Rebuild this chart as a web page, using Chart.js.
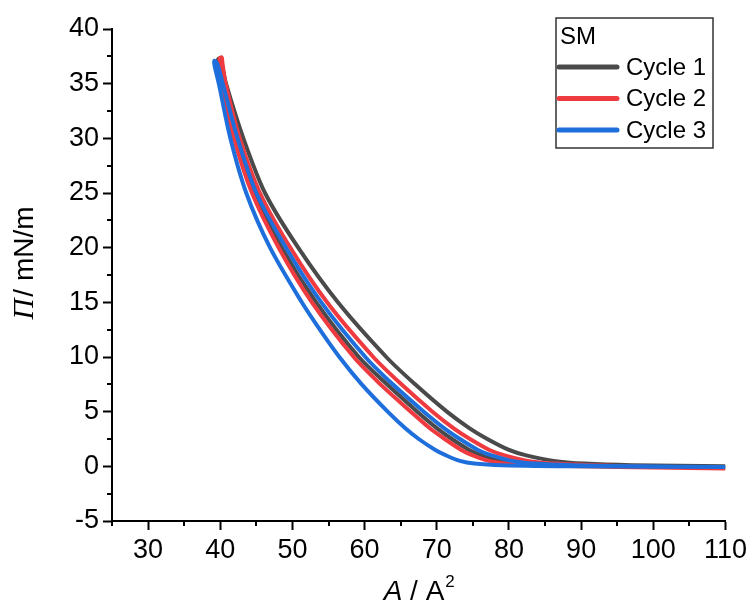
<!DOCTYPE html>
<html>
<head>
<meta charset="utf-8">
<script src="https://cdn.jsdelivr.net/npm/chart.js@4.4.1/dist/chart.umd.min.js"></script>
<style>
  html, body { margin: 0; padding: 0; background: #fff; }
  #wrap { width: 751px; height: 614px; position: relative; }
</style>
</head>
<body>
<div id="wrap"><canvas id="isotherm"></canvas></div>
<script>
// --- data: area per molecule (A) vs surface pressure (Pi) ---
// each cycle = compression (110 -> top) then expansion (top -> 110)
const c1CompA  = [110, 97, 90.5, 86.2, 82.4, 80.0, 77.0, 74.5, 71.4, 67.0, 63.0, 56.3, 50.8, 46.2, 43.2, 40.8, 40.1, 39.8];
const c1CompPi = [0, 0.1, 0.25, 0.5, 1.0, 1.5, 2.5, 3.5, 5, 7.5, 10, 15, 20, 25, 30, 35, 37.0, 37.3];
const c1ExpA   = [39.6, 40.2, 42.2, 44.7, 48.5, 53.3, 59.2, 63.1, 67.3, 70.0, 72.1, 74.5, 76.3, 78.8, 81.7, 86.6, 98, 110];
const c1ExpPi  = [37.0, 35, 30, 25, 20, 15, 10, 7.5, 5, 3.5, 2.5, 1.5, 1.0, 0.5, 0.25, 0.1, 0, -0.05];

const c2CompA  = [110, 100, 92.0, 86.2, 82.6, 79.4, 77.3, 74.6, 72.3, 69.4, 65.1, 61.2, 54.8, 49.7, 45.5, 42.7, 40.75, 40.3, 40.2];
const c2CompPi = [-0.15, -0.05, 0.1, 0.25, 0.5, 1.0, 1.5, 2.5, 3.5, 5, 7.5, 10, 15, 20, 25, 30, 35, 36.9, 37.4];
const c2ExpA   = [39.9, 40.1, 41.9, 44.4, 48.1, 52.7, 58.5, 62.2, 66.4, 69.0, 71.1, 73.4, 75.0, 77.2, 79.9, 84.4, 95, 110];
const c2ExpPi  = [37.3, 35, 30, 25, 20, 15, 10, 7.5, 5, 3.5, 2.5, 1.5, 1.0, 0.5, 0.25, 0.1, -0.05, -0.2];

const c3CompA  = [110, 98, 88.9, 83.7, 80.4, 77.6, 75.7, 73.2, 71.0, 68.2, 63.9, 60.1, 54.0, 49.1, 45.0, 42.4, 40.35, 39.6, 39.2];
const c3CompPi = [-0.05, 0, 0.1, 0.25, 0.5, 1.0, 1.5, 2.5, 3.5, 5, 7.5, 10, 15, 20, 25, 30, 35, 36.8, 37.1];
const c3ExpA   = [39.2, 39.8, 41.4, 43.6, 46.9, 51.3, 53.8, 56.5, 59.6, 63.2, 65.6, 67.5, 69.8, 71.3, 73.2, 75.2, 79, 90, 110];
const c3ExpPi  = [36.7, 35, 30, 25, 20, 15, 12.5, 10, 7.5, 5, 3.5, 2.5, 1.5, 1.0, 0.5, 0.25, 0.1, 0, -0.05];

const cycleLabels = ['Cycle 1', 'Cycle 2', 'Cycle 3'];
const cycleColors = ['#4a4a4a', '#ef3a3f', '#1e6fdc'];

const xTicks = [30, 40, 50, 60, 70, 80, 90, 100, 110];
const yTicks = [-5, 0, 5, 10, 15, 20, 25, 30, 35, 40];
const xMinor = [25, 35, 45, 55, 65, 75, 85, 95, 105];
const yMinor = [-2.5, 2.5, 7.5, 12.5, 17.5, 22.5, 27.5, 32.5, 37.5];

function loop(compA, compPi, expA, expPi) {
  const pts = compA.map((a, i) => ({ x: a, y: compPi[i] }));
  return pts.concat(expA.map((a, i) => ({ x: a, y: expPi[i] })));
}

const cycles = [
  loop(c1CompA, c1CompPi, c1ExpA, c1ExpPi),
  loop(c2CompA, c2CompPi, c2ExpA, c2ExpPi),
  loop(c3CompA, c3CompPi, c3ExpA, c3ExpPi)
];

const SANS = '"Liberation Sans", Arial, sans-serif';
const SERIF = '"Liberation Serif", "Times New Roman", serif';

// minor ticks (Chart.js has none of its own)
const minorTicks = {
  id: 'minorTicks',
  afterDraw(chart) {
    const { ctx, chartArea, scales } = chart;
    ctx.save();
    ctx.strokeStyle = '#000';
    ctx.lineWidth = 2;
    ctx.beginPath();
    xMinor.forEach(v => {
      const px = Math.round(scales.x.getPixelForValue(v));
      ctx.moveTo(px, chartArea.bottom);
      ctx.lineTo(px, chartArea.bottom + 5);
    });
    yMinor.forEach(v => {
      const py = Math.round(scales.y.getPixelForValue(v));
      ctx.moveTo(chartArea.left, py);
      ctx.lineTo(chartArea.left - 5, py);
    });
    ctx.stroke();
    ctx.restore();
  }
};

// axis titles with italic symbols
const axisTitles = {
  id: 'axisTitles',
  afterDraw(chart) {
    const { ctx, chartArea } = chart;
    ctx.save();
    ctx.fillStyle = '#000';
    ctx.textBaseline = 'alphabetic';

    // x title: A / A^2
    const xc = (chartArea.left + chartArea.right) / 2;
    const by = 600;
    ctx.font = 'italic 28px ' + SANS;
    const wA = ctx.measureText('A').width;
    ctx.font = '28px ' + SANS;
    const wMid = ctx.measureText(' / A').width;
    ctx.font = '17px ' + SANS;
    const wSup = ctx.measureText('2').width;
    const x0 = xc - (wA + wMid + wSup) / 2;
    ctx.font = 'italic 28px ' + SANS;
    ctx.fillText('A', x0, by);
    ctx.font = '28px ' + SANS;
    ctx.fillText(' / A', x0 + wA, by);
    ctx.font = '17px ' + SANS;
    ctx.fillText('2', x0 + wA + wMid + 1, by - 13);

    // y title: Pi / mN/m (rotated)
    const yc = (chartArea.top + chartArea.bottom) / 2 - 12;
    ctx.translate(33, yc);
    ctx.rotate(-Math.PI / 2);
    ctx.font = 'italic 29px ' + SERIF;
    const wPi = ctx.measureText('\u03A0').width;
    ctx.font = '28px ' + SANS;
    const wRest = ctx.measureText('/ mN/m').width;
    const s = -(wPi + 2 + wRest) / 2;
    ctx.font = 'italic 29px ' + SERIF;
    ctx.fillText('\u03A0', s, 0);
    ctx.font = '28px ' + SANS;
    ctx.fillText('/ mN/m', s + wPi + 2, 0);
    ctx.restore();
  }
};

// boxed legend with title, top right
const boxLegend = {
  id: 'boxLegend',
  afterDraw(chart) {
    const ctx = chart.ctx;
    const left = 556, top = 18, w = 157, h = 130;
    ctx.save();
    ctx.strokeStyle = '#333';
    ctx.lineWidth = 1.5;
    ctx.strokeRect(left, top, w, h);
    ctx.fillStyle = '#000';
    ctx.font = '24px ' + SANS;
    ctx.textBaseline = 'middle';
    ctx.fillText('SM', left + 4, top + 19);
    chart.data.datasets.forEach((ds, i) => {
      const y = top + 49 + i * 31.5;
      ctx.strokeStyle = ds.borderColor;
      ctx.lineWidth = 5;
      ctx.lineCap = 'round';
      ctx.beginPath();
      ctx.moveTo(left + 3, y);
      ctx.lineTo(left + 61, y);
      ctx.stroke();
      ctx.fillStyle = '#000';
      ctx.fillText(ds.label, left + 70, y + 1);
    });
    ctx.restore();
  }
};

new Chart(document.getElementById('isotherm'), {
  type: 'line',
  data: {
    datasets: cycles.map((pts, i) => ({
      label: cycleLabels[i],
      data: pts,
      borderColor: cycleColors[i],
      backgroundColor: cycleColors[i],
      borderWidth: 4,
      pointRadius: 0,
      tension: 0.3,
      fill: false,
      order: 3 - i
    }))
  },
  options: {
    responsive: true,
    maintainAspectRatio: false,
    animation: false,
    layout: { padding: { left: 0, top: 29, right: 25, bottom: 0 } },
    plugins: {
      legend: { display: false },
      tooltip: { enabled: false }
    },
    scales: {
      x: {
        type: 'linear',
        min: 25,
        max: 110,
        afterFit: s => { s.height = 93; },
        afterBuildTicks: s => { s.ticks = xTicks.map(v => ({ value: v })); },
        border: { display: true, color: '#000', width: 2 },
        grid: { drawOnChartArea: false, drawTicks: true, tickLength: 9, tickWidth: 2, tickColor: '#000', color: '#000' },
        ticks: { color: '#000', font: { family: SANS, size: 27 }, padding: 4, maxRotation: 0, autoSkip: false }
      },
      y: {
        type: 'linear',
        min: -5,
        max: 40,
        afterFit: s => { s.width = 112; },
        afterBuildTicks: s => { s.ticks = yTicks.map(v => ({ value: v })); },
        border: { display: true, color: '#000', width: 2 },
        grid: { drawOnChartArea: false, drawTicks: true, tickLength: 9, tickWidth: 2, tickColor: '#000', color: '#000' },
        ticks: { color: '#000', font: { family: SANS, size: 27 }, padding: 4, autoSkip: false }
      }
    }
  },
  plugins: [minorTicks, axisTitles, boxLegend]
});
</script>
</body>
</html>
